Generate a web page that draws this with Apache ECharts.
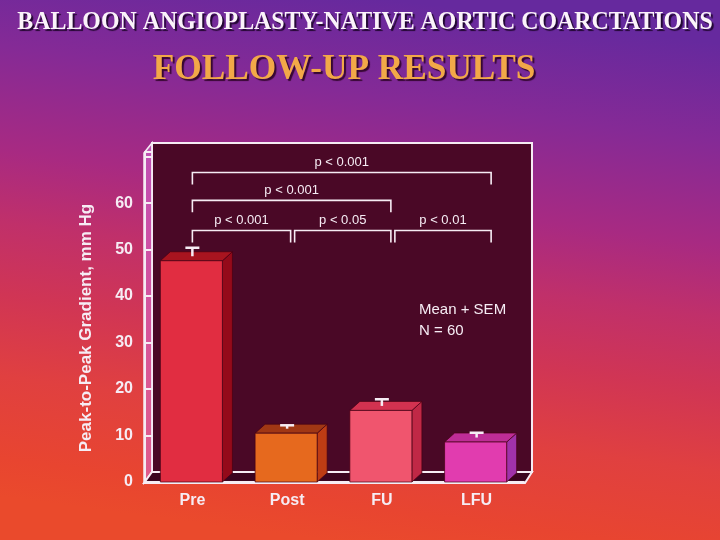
<!DOCTYPE html>
<html>
<head>
<meta charset="utf-8">
<script src="https://cdn.jsdelivr.net/npm/echarts@6/dist/echarts.min.js"></script>
<style>
  html, body { margin: 0; padding: 0; }
  #chart { width: 720px; height: 540px; }
</style>
</head>
<body>
<div id="chart"></div>
<script>
// follow-up gradients after balloon angioplasty
const categories = ['Pre', 'Post', 'FU', 'LFU']
const means = [47.6, 10.5, 15.4, 8.6]
const sems = [2.8, 1.7, 2.4, 2.0]
const yTickMax = 60

// significance brackets (category index from / to, height in mm Hg)
const bracketFrom = [0, 1, 2, 0, 0]
const bracketTo = [1, 2, 3, 2, 3]
const bracketLevel = [54.1, 54.1, 54.1, 60.6, 66.6]
const bracketText = ['p < 0.001', 'p < 0.05', 'p < 0.01', 'p < 0.001', 'p < 0.001']

const barColors = [
  { front: '#e12d41', top: '#a8141f', side: '#940a1a' },
  { front: '#e6691e', top: '#a03714', side: '#be3c14' },
  { front: '#f0556e', top: '#d23250', side: '#c02846' },
  { front: '#e13caf', top: '#be2d96', side: '#a032aa' }
]
const DX = 10
const DY = -9
const white = '#f6ecf4'

function renderBar (params, api) {
  const i = api.value(0)
  const v = api.value(1)
  const e = api.value(2)
  const top = api.coord([i, v])
  const base = api.coord([i, 0])
  const cap = api.coord([i, v + e])
  const w = api.size([1, 0])[0] * 0.655
  const x0 = top[0] - w / 2 - 1
  const x1 = x0 + w
  const yT = top[1]
  const yB = base[1]
  const c = barColors[i]
  const edge = { stroke: 'rgba(70,0,20,0.7)', lineWidth: 1 }
  const cx = (x0 + x1) / 2 + 1
  return {
    type: 'group',
    children: [
      { type: 'polygon', shape: { points: [[x1, yT], [x1 + DX, yT + DY], [x1 + DX, yB + DY], [x1, yB]] }, style: Object.assign({ fill: c.side }, edge) },
      { type: 'polygon', shape: { points: [[x0, yT], [x0 + DX, yT + DY], [x1 + DX, yT + DY], [x1, yT]] }, style: Object.assign({ fill: c.top }, edge) },
      { type: 'rect', shape: { x: x0, y: yT, width: w, height: yB - yT }, style: Object.assign({ fill: c.front }, edge) },
      { type: 'line', shape: { x1: cx, y1: yT + DY / 2, x2: cx, y2: cap[1] }, style: { stroke: white, lineWidth: 2.5 } },
      { type: 'line', shape: { x1: cx - 7, y1: cap[1], x2: cx + 7, y2: cap[1] }, style: { stroke: white, lineWidth: 2.5 } }
    ]
  }
}

function renderBracket (params, api) {
  const from = api.value(0)
  const to = api.value(1)
  const lvl = api.value(2)
  const a = api.coord([from, lvl])
  const b = api.coord([to, lvl])
  const xa = a[0] + from * 5.5 + (from > 0 ? 2 : 0)
  const xb = b[0] + to * 5.5 - 2
  const y = a[1]
  return {
    type: 'group',
    children: [
      {
        type: 'polyline',
        shape: { points: [[xa, y + 12], [xa, y], [xb, y], [xb, y + 12]] },
        style: { stroke: white, lineWidth: 1.6, fill: null }
      },
      {
        type: 'text',
        x: (xa + xb) / 2,
        y: y - 10,
        style: {
          text: bracketText[params.dataIndex],
          fill: white,
          font: '13px "Liberation Sans", Arial, sans-serif',
          textAlign: 'center',
          textVerticalAlign: 'middle'
        }
      }
    ]
  }
}

const option = {
  animation: false,
  grid: { left: 145, right: 196, top: 152, bottom: 58 },
  graphic: [
    {
      type: 'rect',
      z: -100,
      shape: { x: 0, y: 0, width: 720, height: 540 },
      style: {
        fill: new echarts.graphic.LinearGradient(0.55, 0, 0.45, 1, [
          { offset: 0, color: '#66299e' },
          { offset: 0.18, color: '#852a96' },
          { offset: 0.37, color: '#a82a82' },
          { offset: 0.5, color: '#c0306a' },
          { offset: 0.63, color: '#d03555' },
          { offset: 0.78, color: '#e04040' },
          { offset: 0.93, color: '#e84530' },
          { offset: 1, color: '#ea4a2c' }
        ])
      }
    },
    {
      type: 'rect',
      z: -50,
      shape: { x: 152, y: 143, width: 380, height: 329 },
      style: { fill: '#4a0826', stroke: white, lineWidth: 2 }
    },
    {
      type: 'polygon',
      z: -50,
      shape: { points: [[144, 153], [152, 143], [152, 472], [144, 483]] },
      style: { fill: 'rgba(215,110,215,0.55)', stroke: white, lineWidth: 1.5 }
    },
    {
      type: 'polygon',
      z: -50,
      shape: { points: [[144, 483], [525, 483], [532, 472], [152, 472]] },
      style: { fill: '#3c0520', stroke: white, lineWidth: 2 }
    },
    {
      type: 'text',
      z: 100,
      x: 365,
      y: 23,
      scaleX: 0.955,
      style: {
        text: 'BALLOON ANGIOPLASTY-NATIVE AORTIC COARCTATIONS',
        fill: '#fbf3fa',
        font: 'bold 25px "Liberation Serif", "Times New Roman", serif',
        textAlign: 'center',
        textVerticalAlign: 'middle',
        textShadowColor: 'rgba(20,0,30,0.85)',
        textShadowOffsetX: 2,
        textShadowOffsetY: 2,
        textShadowBlur: 1
      }
    },
    {
      type: 'text',
      z: 100,
      x: 344,
      y: 70,
      scaleX: 0.98,
      style: {
        text: 'FOLLOW-UP RESULTS',
        fill: '#f2a848',
        font: 'bold 36px "Liberation Serif", "Times New Roman", serif',
        textAlign: 'center',
        textVerticalAlign: 'middle',
        textShadowColor: 'rgba(40,0,30,0.85)',
        textShadowOffsetX: 2,
        textShadowOffsetY: 2,
        textShadowBlur: 1
      }
    },
    {
      type: 'text',
      z: 100,
      x: 86,
      y: 328,
      rotation: Math.PI / 2,
      style: {
        text: 'Peak-to-Peak Gradient, mm Hg',
        fill: white,
        font: 'bold 17px "Liberation Sans", Arial, sans-serif',
        textAlign: 'center',
        textVerticalAlign: 'middle'
      }
    },
    {
      type: 'text',
      z: 100,
      x: 419,
      y: 320,
      style: {
        text: 'Mean + SEM\nN = 60',
        fill: white,
        font: '15px "Liberation Sans", Arial, sans-serif',
        lineHeight: 21,
        textAlign: 'left',
        textVerticalAlign: 'middle'
      }
    }
  ],
  xAxis: {
    type: 'category',
    data: categories,
    axisTick: { show: false },
    axisLine: { lineStyle: { color: white, width: 2 } },
    axisLabel: {
      color: white,
      fontSize: 16,
      fontWeight: 'bold',
      fontFamily: '"Liberation Sans", Arial, sans-serif',
      margin: 11
    }
  },
  yAxis: {
    type: 'value',
    min: 0,
    max: 71,
    interval: 10,
    splitLine: { show: false },
    axisLine: { show: true, lineStyle: { color: white, width: 2 } },
    axisTick: { show: true, inside: true, length: 8, lineStyle: { color: white, width: 2 } },
    axisLabel: {
      color: white,
      fontSize: 16,
      fontWeight: 'bold',
      fontFamily: '"Liberation Sans", Arial, sans-serif',
      margin: 12,
      formatter: v => (v <= yTickMax ? String(v) : '')
    }
  },
  series: [
    {
      type: 'custom',
      name: 'Peak-to-peak gradient',
      renderItem: renderBar,
      encode: { x: 0, y: 1 },
      data: categories.map((c, i) => [i, means[i], sems[i]])
    },
    {
      type: 'custom',
      name: 'Significance',
      renderItem: renderBracket,
      encode: { x: [0, 1], y: 2 },
      data: bracketFrom.map((f, i) => [f, bracketTo[i], bracketLevel[i]])
    }
  ]
}

const myChart = echarts.init(document.getElementById('chart'))
myChart.setOption(option)
</script>
</body>
</html>
